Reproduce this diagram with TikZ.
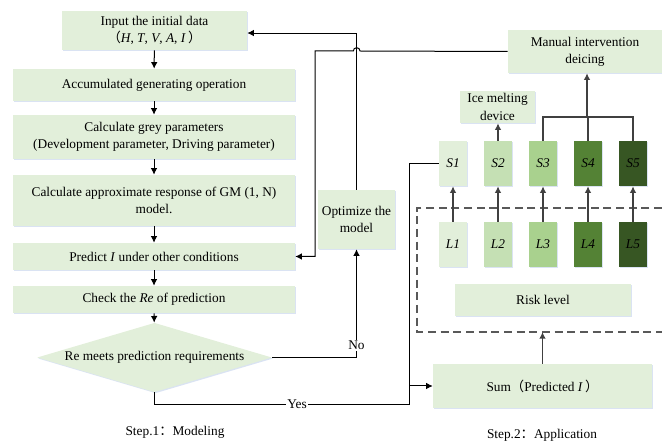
\documentclass[tikz,border=0pt]{standalone}
\usepackage{fontspec}
\setmainfont{Liberation Serif}
\newfontfamily\cjk{Noto Sans CJK SC}
\usetikzlibrary{arrows.meta,positioning,calc,shapes.geometric,shadows}
\definecolor{BoxGreen}{HTML}{E2EFDA}
\definecolor{LvlOne}{HTML}{E2EFDA}
\definecolor{LvlTwo}{HTML}{C5E0B4}
\definecolor{LvlThree}{HTML}{A9D18E}
\definecolor{LvlFour}{HTML}{548235}
\definecolor{LvlFive}{HTML}{375623}
\definecolor{ShadowBlue}{HTML}{DAE3F3}
\definecolor{LinkGray}{HTML}{404040}
\definecolor{DashGray}{HTML}{595959}

\begin{document}
\begin{tikzpicture}[x=0.75pt,y=-0.75pt,
    every node/.style={font=\fontsize{10}{13}\selectfont},
    box/.style={fill=BoxGreen,align=center,inner sep=2pt,drop shadow={shadow xshift=0.8pt,shadow yshift=-0.8pt,fill=ShadowBlue,opacity=1}},
    lvl/.style={fill=#1,minimum width=21pt,minimum height=33.75pt,inner sep=0pt,font=\fontsize{10}{13}\selectfont\itshape,drop shadow={shadow xshift=0.8pt,shadow yshift=-0.8pt,fill=ShadowBlue,opacity=1}},
    arr/.style={-{Latex[length=5pt,width=5pt]},line width=0.75pt},
    garr/.style={-{Latex[length=5pt,width=5pt]},LinkGray,line width=1.1pt},
    glink/.style={LinkGray,line width=1.1pt},
    zone/.style={DashGray,line width=1.1pt,dash pattern=on 6pt off 3.5pt}
  ]
    \useasboundingbox (0,0) rectangle (662,442);

    % step 1: modeling
    \node[box,minimum width=138.75pt,minimum height=29.25pt] (input) at (154.5,30.5) {Input the initial data\\{\cjk （}\textit{H}, \textit{T}, \textit{V}, \textit{A}, \textit{I}\,{\cjk ）}};
    \node[box,minimum width=211.5pt,minimum height=24pt] (ago) at (154,85) {Accumulated generating operation};
    \node[box,minimum width=211.5pt,minimum height=33pt] (grey) at (154,137) {Calculate grey parameters\\(Development parameter, Driving parameter)};
    \node[box,minimum width=211.5pt,minimum height=38.25pt] (resp) at (154,200.5) {Calculate approximate response of GM (1, N)\\model.};
    \node[box,minimum width=211.5pt,minimum height=20.25pt] (pred) at (154,256.5) {Predict \textit{I} under other conditions};
    \node[box,minimum width=211.5pt,minimum height=20.25pt] (check) at (154,299.5) {Check the \textit{Re} of prediction};
    \node[box,diamond,aspect=3.4,inner sep=0pt,minimum width=176pt,minimum height=52pt] (meet) at (154.5,357.5) {Re meets prediction requirements};
    \node[box,minimum width=57.75pt,minimum height=44.25pt] (opt) at (356.5,219.5) {Optimize the\\model};
    \node (step1) at (175,432) {Step.1{\cjk ：}Modeling};

    % step 2: application
    \node[box,minimum width=115.5pt,minimum height=32.25pt] (manual) at (585,51.5) {Manual intervention\\deicing};
    \node[box,minimum width=56.25pt,minimum height=24pt] (melt) at (497.5,107) {Ice melting\\device};
    \node[lvl=LvlOne] (s1) at (453,163.5) {S1};
    \node[lvl=LvlTwo] (s2) at (498,163.5) {S2};
    \node[lvl=LvlThree] (s3) at (543,163.5) {S3};
    \node[lvl=LvlFour] (s4) at (588,163.5) {S4};
    \node[lvl=LvlFive] (s5) at (633,163.5) {S5};
    \draw[zone] (662,208) -- (417,208) -- (417,332) -- (662,332);
    \node[lvl=LvlOne] (l1) at (453,244.5) {L1};
    \node[lvl=LvlTwo] (l2) at (498,244.5) {L2};
    \node[lvl=LvlThree] (l3) at (543,244.5) {L3};
    \node[lvl=LvlFour] (l4) at (588,244.5) {L4};
    \node[lvl=LvlFive] (l5) at (633,244.5) {L5};
    \node[box,minimum width=132pt,minimum height=24pt] (risk) at (543,300) {Risk level};
    \node[box,minimum width=164.25pt,minimum height=33pt] (sum) at (542.5,386) {Sum{\cjk （}Predicted \textit{I}\,{\cjk ）}};
    \node (step2) at (542,435) {Step.2{\cjk ：}Application};

    \coordinate (zoneB) at (543,332);
    \coordinate (split) at (587,117);
    \coordinate (fork) at (409,386);

    % modeling flow
    \draw[arr] (input) -- (ago);
    \draw[arr] (ago) -- (grey);
    \draw[arr] (grey) -- (resp);
    \draw[arr] (resp) -- (pred);
    \draw[arr] (pred) -- (check);
    \draw[arr] (check) -- (meet);
    \draw[arr] (meet.east) -| node[pos=0.555,fill=white,inner sep=1pt] (no) {No} (opt.south);
    \draw[arr] (opt.north) |- ([yshift=-1.9pt]input.east);
    \draw[arr] (manual.west) -- (360,51) arc[start angle=0,end angle=180,radius=2.5pt] -- (315,51) |- (pred.east);
    \draw (meet.south) |- node[pos=0.78,fill=white,inner sep=1pt] (yes) {Yes} (409,404) |- (s1.west);
    \draw[arr] (fork) -- (sum.west);

    % application flow
    \draw[garr] (sum.north) -- (sum.north |- zoneB);
    \draw[garr] (l1) -- (s1);
    \draw[garr] (l2) -- (s2);
    \draw[garr] (l3) -- (s3);
    \draw[garr] (l4) -- (s4);
    \draw[garr] (l5) -- (s5);
    \draw[garr] (s2.north) -- (s2.north |- melt.south);
    \draw[glink] (s3.north) |- (split) -| (s5.north);
    \draw[glink] (s4.north) -- (s4.north |- split);
    \draw[garr] (split) -- (split |- manual.south);
  \end{tikzpicture}
\end{document}
